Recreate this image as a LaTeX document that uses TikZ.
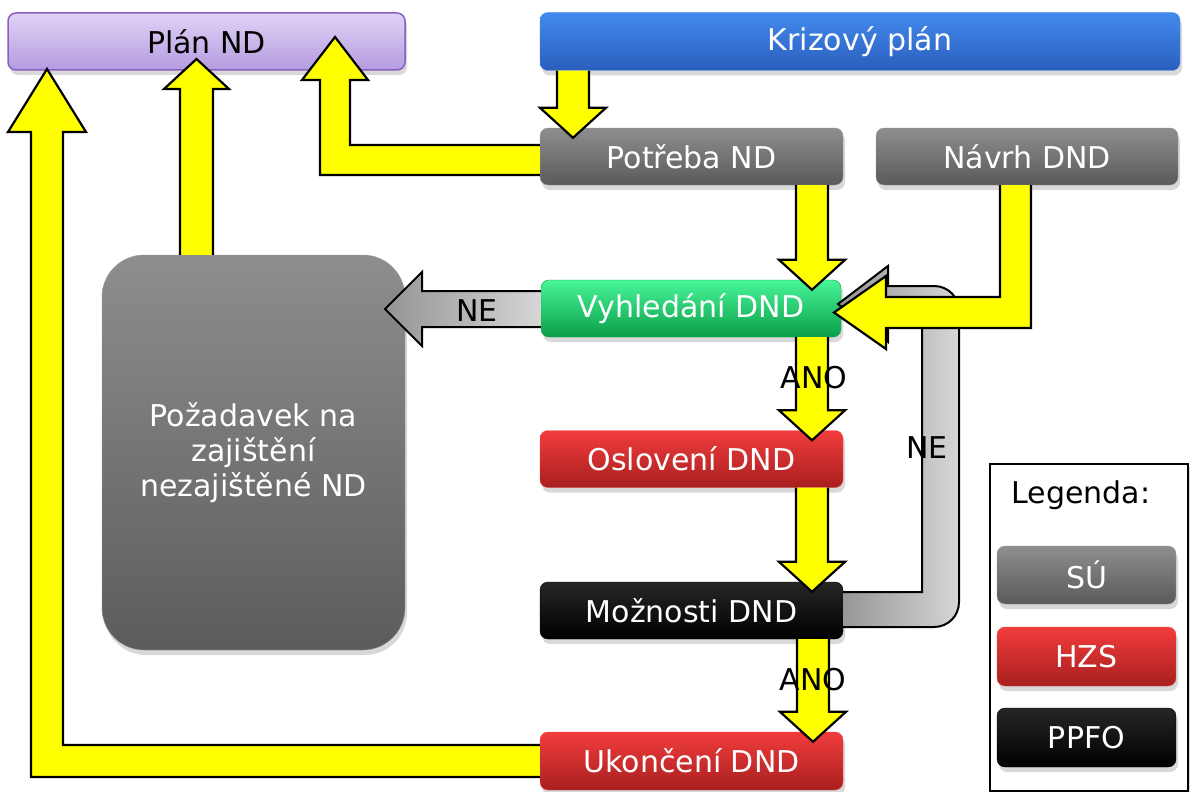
\documentclass[tikz,border=0pt]{standalone}
\usepackage{fontspec}
\setmainfont{DejaVu Sans}
\usetikzlibrary{calc,shadows}
\definecolor{graytop}{HTML}{8E8E8E}
\definecolor{graybot}{HTML}{5A5A5A}
\definecolor{redtop}{HTML}{F23C3C}
\definecolor{redbot}{HTML}{A81F1F}
\definecolor{redline}{HTML}{E84A4A}
\definecolor{greentop}{HTML}{48F598}
\definecolor{greenbot}{HTML}{0A9E48}
\definecolor{bluetop}{HTML}{428AEE}
\definecolor{bluebot}{HTML}{2A5EBD}
\definecolor{lavtop}{HTML}{E0D3F6}
\definecolor{lavbot}{HTML}{B49CE0}
\definecolor{lavline}{HTML}{8B5EBF}
\definecolor{yell}{RGB}{255,255,0}
\newcommand\ydown[3]{%
  \path[yarr] let \p1=(#1.south), \p2=(#2.north) in
    (#3pt-16pt,\y1) -- (#3pt-16pt,\y2+20pt) -- (#3pt-33pt,\y2+20pt) -- (#3pt,\y2-10pt)
    -- (#3pt+33pt,\y2+20pt) -- (#3pt+16pt,\y2+20pt) -- (#3pt+16pt,\y1);}
\begin{document}
\begin{tikzpicture}[x=1pt,y=-1pt,
  txt/.style={font=\fontsize{30}{35}\selectfont},
  box/.style={txt, rounded corners=8pt, minimum width=303pt, minimum height=57pt,
    inner sep=0pt, text=white,
    drop shadow={opacity=0.3, shadow xshift=2pt, shadow yshift=-5pt}},
  grayb/.style={box, top color=graytop, bottom color=graybot, draw=black!40},
  redb/.style={box, top color=redtop, bottom color=redbot, draw=redline},
  greenb/.style={box, top color=greentop, bottom color=greenbot, draw=greenbot},
  blackb/.style={box, top color=black!85, middle color=black, bottom color=black, draw=black},
  blueb/.style={box, top color=bluetop, bottom color=bluebot, draw=bluetop},
  lavb/.style={box, top color=lavtop, bottom color=lavbot, draw=lavline, line width=1.5pt, text=black},
  lbl/.style={txt, text=black, inner sep=0pt},
  yarr/.style={fill=yell, draw=black, line width=2.2pt, line join=miter},
  garr/.style={left color=black!42, right color=black!16, draw=black, line width=2pt, line join=miter}]
\useasboundingbox (0,0) rectangle (1194,792);

% boxes
\node[lavb, minimum width=397pt] (plan) at (206.5,41.5) {Plán ND};
\node[blueb, minimum width=640pt, minimum height=58pt] (krizovy) at (860,41.5) {Krizový plán};
\node[grayb] (potreba) at (691.5,156.5) {Potřeba ND};
\node[grayb, minimum width=302pt] (navrh) at (1027,156.5) {Návrh DND};
\node[greenb, minimum width=300pt] (vyhl) at (691,308.5) {Vyhledání DND};
\node[redb] (oslov) at (691.5,459) {Oslovení DND};
\node[blackb] (moz) at (691.5,610.5) {Možnosti DND};
\node[redb, minimum height=58pt] (ukon) at (691.5,761) {Ukončení DND};
\node[grayb, rounded corners=42pt, minimum width=303pt, minimum height=395pt,
      align=center, top color=graytop, bottom color=black!64] (pozad) at (253.5,452.5)
      {Požadavek na\\zajištění\\nezajištěné ND};

% legend
\node[draw=black, line width=1.6pt, fill=white, minimum width=198pt, minimum height=327pt,
      drop shadow={opacity=0.3, shadow xshift=2pt, shadow yshift=-3pt}] (leg) at (1089,627.5) {};
\node[lbl] (legt) at (1081,495) {Legenda:};
\node[grayb, minimum width=179pt, minimum height=58pt] (su) at (1086.5,575) {SÚ};
\node[redb, minimum width=179pt, minimum height=59pt] (hzs) at (1086.5,656.5) {HZS};
\node[blackb, minimum width=179pt, minimum height=59pt] (ppfo) at (1086.5,737.5) {PPFO};

% gray NE arrows
\path[garr] (vyhl.west |- 0,291) -- (422,291) -- (422,272) -- (385,309) -- (422,346)
   -- (422,327) -- (vyhl.west |- 0,327);
\path[garr] (moz.east |- 0,592) -- (922,592) -- (922,322) -- (888,322) -- (888,342)
   -- (838,304) -- (888,266) -- (888,286) -- (934,286)
   .. controls (948,286) and (959,297) .. (959,311) -- (959,602)
   .. controls (959,616) and (948,627) .. (934,627) -- (moz.east |- 0,627);

% yellow arrows
\path[yarr] (ukon.west |- 0,745) -- (63,745) -- (63,132) -- (86,132) -- (47,69)
   -- (8,132) -- (31,132) -- (31,777) -- (ukon.west |- 0,777);
\path[yarr] (pozad.north -| 180,0) -- (180,89) -- (164,89) -- (196.5,59) -- (229,89)
   -- (213,89) -- (pozad.north -| 213,0);
\path[yarr] (potreba.west |- 0,145) -- (350,145) -- (350,80) -- (368,80) -- (335,37)
   -- (302,80) -- (320,80) -- (320,175) -- (potreba.west |- 0,175);
\path[yarr] (navrh.south -| 1000,0) -- (1000,297) -- (886,297) -- (886,276) -- (834,312.5)
   -- (886,349) -- (886,328) -- (1031,328) -- (navrh.south -| 1031,0);
\ydown{krizovy}{potreba}{573}
\ydown{potreba}{vyhl}{812}
\ydown{vyhl}{oslov}{812}
\ydown{oslov}{moz}{812}
\ydown{moz}{ukon}{813}

% labels
\node[lbl] (ne1) at (477,311) {NE};
\node[lbl] (ano1) at (814,378) {ANO};
\node[lbl] (ne2) at (927,448) {NE};
\node[lbl] (ano2) at (813,680) {ANO};
\end{tikzpicture}
\end{document}
